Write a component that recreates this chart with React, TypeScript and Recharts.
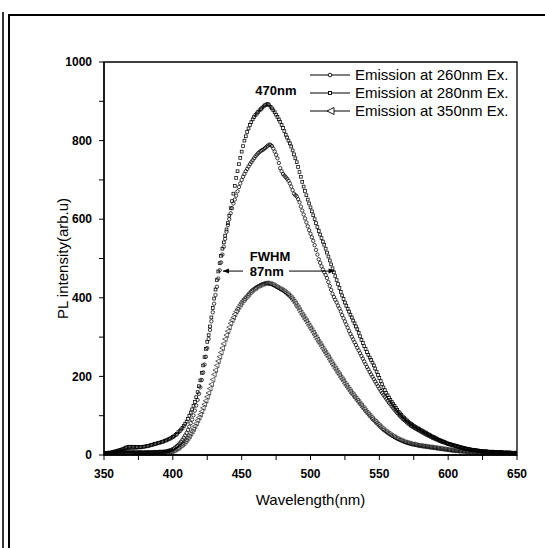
import React from 'react';
import { LineChart, Line, XAxis, YAxis, ReferenceArea, ReferenceDot, ReferenceLine } from 'recharts';

// Wavelength grid (nm), 1 nm step
const wavelengths: number[] = [
  350, 351, 352, 353, 354, 355, 356, 357, 358, 359,
  360, 361, 362, 363, 364, 365, 366, 367, 368, 369,
  370, 371, 372, 373, 374, 375, 376, 377, 378, 379,
  380, 381, 382, 383, 384, 385, 386, 387, 388, 389,
  390, 391, 392, 393, 394, 395, 396, 397, 398, 399,
  400, 401, 402, 403, 404, 405, 406, 407, 408, 409,
  410, 411, 412, 413, 414, 415, 416, 417, 418, 419,
  420, 421, 422, 423, 424, 425, 426, 427, 428, 429,
  430, 431, 432, 433, 434, 435, 436, 437, 438, 439,
  440, 441, 442, 443, 444, 445, 446, 447, 448, 449,
  450, 451, 452, 453, 454, 455, 456, 457, 458, 459,
  460, 461, 462, 463, 464, 465, 466, 467, 468, 469,
  470, 471, 472, 473, 474, 475, 476, 477, 478, 479,
  480, 481, 482, 483, 484, 485, 486, 487, 488, 489,
  490, 491, 492, 493, 494, 495, 496, 497, 498, 499,
  500, 501, 502, 503, 504, 505, 506, 507, 508, 509,
  510, 511, 512, 513, 514, 515, 516, 517, 518, 519,
  520, 521, 522, 523, 524, 525, 526, 527, 528, 529,
  530, 531, 532, 533, 534, 535, 536, 537, 538, 539,
  540, 541, 542, 543, 544, 545, 546, 547, 548, 549,
  550, 551, 552, 553, 554, 555, 556, 557, 558, 559,
  560, 561, 562, 563, 564, 565, 566, 567, 568, 569,
  570, 571, 572, 573, 574, 575, 576, 577, 578, 579,
  580, 581, 582, 583, 584, 585, 586, 587, 588, 589,
  590, 591, 592, 593, 594, 595, 596, 597, 598, 599,
  600, 601, 602, 603, 604, 605, 606, 607, 608, 609,
  610, 611, 612, 613, 614, 615, 616, 617, 618, 619,
  620, 621, 622, 623, 624, 625, 626, 627, 628, 629,
  630, 631, 632, 633, 634, 635, 636, 637, 638, 639,
  640, 641, 642, 643, 644, 645, 646, 647, 648, 649,
  650,
];

// Emission at 260nm Ex. (circles)
const em260: number[] = [
  2, 2, 2, 2, 3, 3, 3, 3, 3, 4,
  4, 4, 4, 4, 5, 5, 5, 5, 5, 5,
  5, 5, 5, 5, 5, 5, 5, 5, 5, 5,
  6, 6, 6, 6, 6, 6, 7, 7, 7, 7,
  8, 8, 8, 8, 9, 9, 10, 11, 12, 13,
  15, 17, 20, 23, 26, 30, 34, 39, 44, 50,
  56, 64, 72, 81, 90, 101, 113, 126, 140, 156,
  172, 191, 210, 230, 250, 272, 295, 318, 340, 363,
  385, 407, 428, 449, 470, 490, 510, 530, 550, 568,
  585, 600, 615, 628, 640, 650, 660, 671, 682, 691,
  700, 708, 715, 722, 728, 734, 740, 745, 750, 755,
  760, 764, 768, 771, 774, 776, 778, 781, 784, 787,
  790, 789, 786, 780, 772, 764, 755, 743, 730, 722,
  715, 711, 707, 703, 698, 691, 683, 674, 665, 661,
  658, 651, 643, 632, 622, 612, 602, 592, 582, 572,
  563, 554, 545, 534, 522, 510, 498, 489, 480, 472,
  465, 458, 450, 440, 430, 420, 410, 402, 395, 388,
  380, 373, 365, 356, 348, 340, 332, 324, 316, 308,
  301, 294, 287, 280, 273, 266, 259, 252, 245, 238,
  231, 224, 218, 211, 205, 199, 193, 187, 181, 175,
  169, 163, 158, 153, 148, 143, 138, 133, 129, 124,
  120, 115, 111, 107, 103, 99, 96, 92, 89, 86,
  83, 80, 77, 74, 72, 70, 68, 66, 64, 62,
  60, 58, 56, 54, 52, 50, 49, 47, 45, 43,
  42, 40, 39, 37, 36, 34, 33, 32, 31, 29,
  28, 27, 26, 25, 24, 23, 22, 21, 20, 19,
  18, 17, 16, 16, 15, 14, 14, 13, 13, 12,
  12, 11, 11, 10, 10, 9, 9, 9, 9, 8,
  8, 8, 8, 8, 7, 7, 7, 7, 7, 7,
  6, 6, 6, 6, 6, 6, 5, 5, 5, 5,
  5,
];

// Emission at 280nm Ex. (squares)
const em280: number[] = [
  5, 5, 5, 6, 6, 6, 7, 8, 9, 10,
  11, 12, 13, 14, 16, 17, 19, 20, 21, 21,
  21, 21, 21, 20, 20, 20, 20, 20, 21, 21,
  22, 22, 23, 24, 25, 26, 27, 28, 29, 30,
  31, 32, 33, 34, 36, 37, 39, 40, 42, 44,
  46, 48, 51, 54, 58, 61, 65, 69, 74, 79,
  85, 92, 100, 108, 116, 125, 135, 147, 160, 175,
  190, 209, 228, 249, 270, 288, 305, 327, 350, 374,
  398, 421, 445, 467, 488, 507, 525, 541, 558, 574,
  590, 609, 628, 646, 665, 685, 705, 722, 740, 756,
  772, 786, 800, 811, 822, 831, 840, 847, 854, 860,
  865, 869, 873, 877, 880, 884, 887, 890, 892, 893,
  890, 886, 882, 877, 872, 866, 860, 854, 848, 840,
  832, 824, 815, 808, 800, 793, 785, 775, 765, 755,
  745, 733, 720, 708, 695, 683, 672, 661, 650, 640,
  630, 620, 610, 600, 590, 580, 570, 561, 552, 543,
  535, 525, 515, 505, 495, 485, 475, 465, 455, 445,
  435, 425, 415, 406, 397, 388, 380, 372, 365, 357,
  350, 342, 335, 327, 320, 311, 302, 293, 285, 277,
  270, 262, 255, 248, 242, 235, 228, 220, 212, 204,
  196, 188, 180, 172, 165, 158, 152, 146, 140, 135,
  130, 125, 120, 115, 110, 106, 102, 98, 95, 91,
  88, 85, 82, 79, 77, 74, 72, 70, 68, 66,
  64, 62, 60, 58, 56, 54, 52, 50, 48, 46,
  45, 43, 41, 39, 38, 36, 35, 33, 32, 30,
  29, 28, 27, 26, 25, 24, 23, 22, 21, 20,
  19, 18, 17, 16, 16, 15, 14, 13, 13, 12,
  12, 11, 11, 10, 10, 9, 9, 9, 9, 8,
  8, 8, 8, 8, 7, 7, 7, 7, 7, 7,
  6, 6, 6, 6, 6, 6, 5, 5, 5, 5,
  5,
];

// Emission at 350nm Ex. (triangles)
const em350: number[] = [
  3, 3, 4, 4, 5, 5, 6, 6, 7, 7,
  8, 8, 9, 9, 9, 10, 10, 10, 10, 10,
  9, 9, 8, 8, 7, 7, 7, 6, 6, 6,
  6, 6, 6, 6, 6, 6, 6, 6, 6, 6,
  6, 6, 6, 6, 7, 7, 8, 8, 9, 9,
  10, 12, 14, 16, 18, 21, 24, 27, 30, 34,
  38, 43, 48, 54, 60, 66, 73, 80, 88, 95,
  103, 111, 120, 129, 138, 148, 158, 169, 180, 192,
  205, 216, 228, 239, 250, 261, 272, 283, 295, 305,
  315, 325, 335, 343, 350, 358, 365, 371, 377, 383,
  388, 393, 397, 401, 405, 409, 413, 417, 420, 423,
  425, 428, 430, 432, 433, 435, 436, 437, 437, 437,
  436, 435, 434, 432, 430, 428, 426, 424, 422, 420,
  418, 416, 413, 410, 407, 404, 400, 396, 391, 386,
  380, 375, 369, 363, 357, 352, 346, 341, 335, 329,
  323, 318, 312, 306, 300, 294, 288, 283, 277, 271,
  265, 260, 254, 249, 243, 237, 231, 226, 220, 215,
  209, 204, 198, 193, 188, 182, 177, 172, 167, 162,
  157, 153, 148, 144, 139, 135, 130, 126, 121, 117,
  112, 108, 104, 100, 96, 92, 88, 85, 81, 78,
  74, 71, 67, 64, 61, 59, 56, 54, 51, 49,
  47, 45, 43, 41, 39, 38, 36, 35, 33, 32,
  31, 30, 29, 28, 27, 27, 26, 25, 24, 24,
  23, 23, 22, 22, 21, 21, 20, 20, 19, 19,
  18, 18, 17, 17, 16, 16, 15, 15, 14, 14,
  13, 13, 12, 12, 11, 11, 11, 10, 10, 10,
  10, 9, 9, 9, 8, 8, 8, 8, 7, 7,
  7, 7, 6, 6, 6, 6, 6, 5, 5, 5,
  5, 5, 5, 5, 5, 5, 4, 4, 4, 4,
  4, 4, 4, 4, 4, 4, 4, 4, 4, 4,
  4,
];

const xTicks: number[] = [350, 375, 400, 425, 450, 475, 500, 525, 550, 575, 600, 625, 650];
const xLabels: number[] = [350, 400, 450, 500, 550, 600, 650];
const yTicks: number[] = [0, 100, 200, 300, 400, 500, 600, 700, 800, 900, 1000];
const yLabels: number[] = [0, 200, 400, 600, 800, 1000];

const seriesNames: string[] = ['Emission at 260nm Ex.', 'Emission at 280nm Ex.', 'Emission at 350nm Ex.'];

const data = wavelengths.map((w, i) => ({ w, a: em260[i], b: em280[i], c: em350[i] }));

const FONT = '"Liberation Sans", Arial, sans-serif';

const circleDot = (p: any) =>
  p.cx == null || p.cy == null ? <g key={p.index} /> :
  <circle key={p.index} cx={p.cx} cy={p.cy} r={1.7} fill="none" stroke="#000" strokeWidth={0.75} />;

const squareDot = (p: any) =>
  p.cx == null || p.cy == null ? <g key={p.index} /> :
  <rect key={p.index} x={p.cx - 1.4} y={p.cy - 1.4} width={2.8} height={2.8} fill="none" stroke="#000" strokeWidth={0.75} />;

const triPath = (cx: number, cy: number, s: number) =>
  `M${cx - s},${cy} L${cx + s * 0.8},${cy - s * 0.9} L${cx + s * 0.8},${cy + s * 0.9} Z`;

const triDot = (p: any) =>
  p.cx == null || p.cy == null ? <g key={p.index} /> :
  <path key={p.index} d={triPath(p.cx, p.cy, 2.6)} fill="none" stroke="#000" strokeWidth={0.6} />;

const XTick = (p: any) => {
  const v = p.payload.value;
  if (!xLabels.includes(v)) return <g />;
  return (
    <text x={p.x} y={p.y} dy="0.71em" textAnchor="middle" fontSize={12} fontWeight="bold" fontFamily={FONT} fill="#000">
      {v}
    </text>
  );
};

const YTick = (p: any) => {
  const v = p.payload.value;
  if (!yLabels.includes(v)) return <g />;
  return (
    <text x={p.x} y={p.y} dy="0.35em" textAnchor="end" fontSize={12} fontWeight="bold" fontFamily={FONT} fill="#000">
      {v}
    </text>
  );
};

const XTitle = (p: any) => {
  const vb = p.viewBox;
  return (
    <text x={vb.x + vb.width / 2} y={vb.y + 50} textAnchor="middle" fontSize={15} fontFamily={FONT} fill="#000">
      Wavelength(nm)
    </text>
  );
};

const YTitle = (p: any) => {
  const vb = p.viewBox;
  const cx = 68;
  const cy = vb.y + vb.height / 2;
  return (
    <text x={cx} y={cy} transform={`rotate(-90 ${cx} ${cy})`} textAnchor="middle" fontSize={15} fontFamily={FONT} fill="#000">
      PL intensity(arb.u)
    </text>
  );
};

const annot = (label: string) => (p: any) => (
  <text x={p.cx} y={p.cy} dy="0.35em" textAnchor="middle" fontSize={13} fontWeight="bold" fontFamily={FONT} fill="#000">
    {label}
  </text>
);

const arrow = (dir: 'left' | 'right') => (p: any) => {
  const xa = Math.min(p.x1, p.x2);
  const xb = Math.max(p.x1, p.x2);
  const y = p.y1;
  const tip = dir === 'left' ? xa : xb;
  const s = dir === 'left' ? 1 : -1;
  return (
    <g>
      <line x1={xa} y1={y} x2={xb} y2={y} stroke="#000" strokeWidth={1} />
      <path d={`M${tip},${y} L${tip + s * 6},${y - 2.5} L${tip + s * 6},${y + 2.5} Z`} fill="#000" />
    </g>
  );
};

const LegendIcon = ({ kind }: { kind: number }) => (
  <svg width={46} height={18} style={{ position: 'absolute', left: 0, top: 0 }}>
    <line x1={2} y1={9} x2={42} y2={9} stroke="#000" strokeWidth={1} />
    {kind === 0 && <circle cx={22} cy={9} r={1.8} fill="#fff" stroke="#000" strokeWidth={0.9} />}
    {kind === 1 && <rect x={20.5} y={7.5} width={3} height={3} fill="#fff" stroke="#000" strokeWidth={0.9} />}
    {kind === 2 && <path d="M19,9 L26,5.5 L26,12.5 Z" fill="#fff" stroke="#000" strokeWidth={0.9} />}
  </svg>
);

export default function App() {
  const legendTops = [66, 84, 102];
  return (
    <div style={{ position: 'absolute', left: 0, top: 0, width: 545, height: 548, background: '#fff', overflow: 'hidden', fontFamily: FONT }}>
      {/* page frame */}
      <div style={{ position: 'absolute', left: 2, top: 12, width: 2, height: 540, background: '#333' }} />
      <div style={{ position: 'absolute', left: 8, top: 14, width: 2, height: 540, background: '#000' }} />
      <div style={{ position: 'absolute', left: 8, top: 14, width: 540, height: 2, background: '#000' }} />

      <div style={{ position: 'absolute', left: 0, top: 0 }}>
        <LineChart width={545} height={548} data={data} margin={{ top: 62, right: 28, left: 0, bottom: 0 }}>
          <XAxis
            dataKey="w"
            type="number"
            domain={[350, 650]}
            ticks={xTicks}
            interval={0}
            allowDataOverflow
            height={93}
            tickSize={5}
            tickMargin={9}
            axisLine={{ stroke: '#000', strokeWidth: 1.3 }}
            tickLine={{ stroke: '#000', strokeWidth: 1 }}
            tick={<XTick />}
            label={XTitle}
          />
          <YAxis
            type="number"
            domain={[0, 1000]}
            ticks={yTicks}
            interval={0}
            allowDataOverflow
            width={104}
            tickSize={5}
            tickMargin={7}
            axisLine={{ stroke: '#000', strokeWidth: 1.3 }}
            tickLine={{ stroke: '#000', strokeWidth: 1 }}
            tick={<YTick />}
            label={YTitle}
          />
          <ReferenceArea x1={350} x2={650} y1={0} y2={1000} fill="none" fillOpacity={0} stroke="#000" strokeWidth={1.3} />
          <Line dataKey="c" name={seriesNames[2]} stroke="none" dot={triDot} activeDot={false} isAnimationActive={false} />
          <Line dataKey="a" name={seriesNames[0]} stroke="none" dot={circleDot} activeDot={false} isAnimationActive={false} />
          <Line dataKey="b" name={seriesNames[1]} stroke="none" dot={squareDot} activeDot={false} isAnimationActive={false} />
          <ReferenceDot x={474.9} y={927} r={0} shape={annot('470nm')} />
          <ReferenceDot x={470.6} y={504} r={0} shape={annot('FWHM')} />
          <ReferenceDot x={468.2} y={468} r={0} shape={annot('87nm')} />
          <ReferenceLine segment={[{ x: 451, y: 468 }, { x: 436.4, y: 468 }]} shape={arrow('left')} />
          <ReferenceLine segment={[{ x: 484.4, y: 468 }, { x: 517.5, y: 468 }]} shape={arrow('right')} />
        </LineChart>
      </div>

      {/* legend */}
      {seriesNames.map((name, i) => (
        <div key={name} style={{ position: 'absolute', left: 308, top: legendTops[i], height: 18, width: 220 }}>
          <LegendIcon kind={i} />
          <span style={{ position: 'absolute', left: 47, top: 0, fontSize: 15, lineHeight: '18px', whiteSpace: 'nowrap', color: '#000' }}>
            {name}
          </span>
        </div>
      ))}
    </div>
  );
}
